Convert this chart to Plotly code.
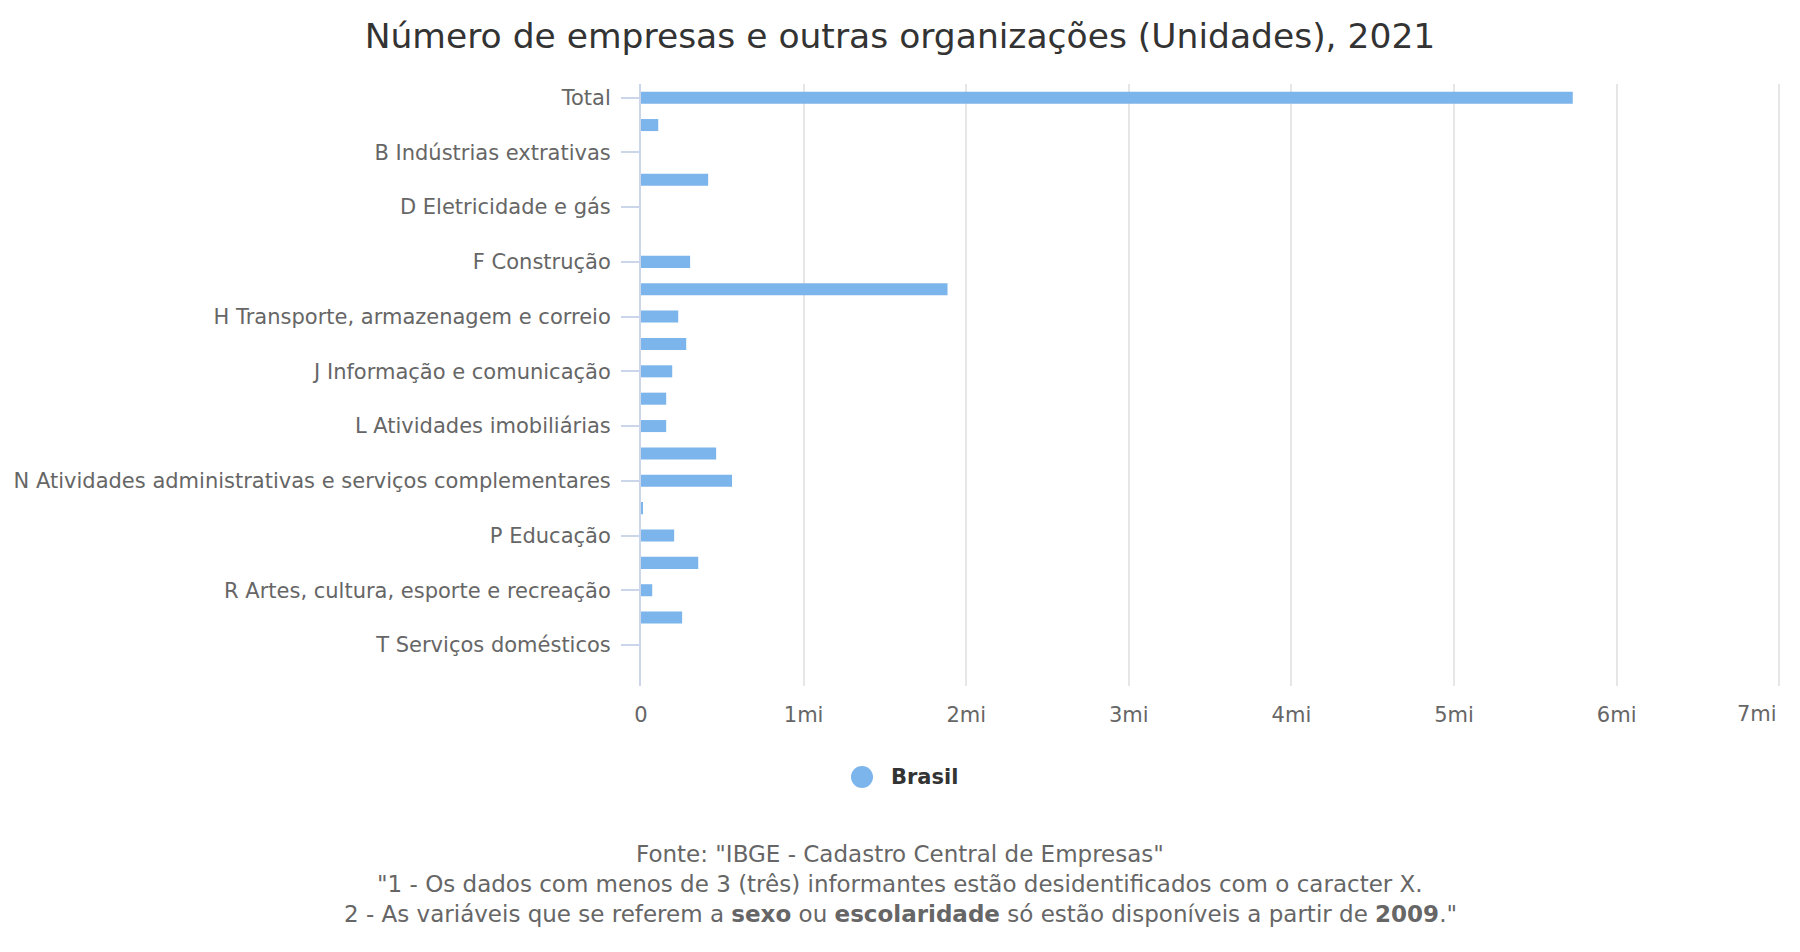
import plotly.graph_objects as go

categories = [
    "Total",
    "A Agricultura, pecuária, produção florestal, pesca e aqüicultura",
    "B Indústrias extrativas",
    "C Indústrias de transformação",
    "D Eletricidade e gás",
    "E Água, esgoto, atividades de gestão de resíduos e descontaminação",
    "F Construção",
    "G Comércio; reparação de veículos automotores e motocicletas",
    "H Transporte, armazenagem e correio",
    "I Alojamento e alimentação",
    "J Informação e comunicação",
    "K Atividades financeiras, de seguros e serviços relacionados",
    "L Atividades imobiliárias",
    "M Atividades profissionais, científicas e técnicas",
    "N Atividades administrativas e serviços complementares",
    "O Administração pública, defesa e seguridade social",
    "P Educação",
    "Q Saúde humana e serviços sociais",
    "R Artes, cultura, esporte e recreação",
    "S Outras atividades de serviços",
    "T Serviços domésticos",
    "U Organismos internacionais e outras instituições extraterritoriais",
]
values = [
    5730000, 106000, 0, 413000, 0, 0, 302000, 1885000, 229000, 278000,
    192000, 155000, 155000, 462000, 560000, 12000, 204000, 352000, 69000,
    253000, 0, 0,
]
series_name = "Brasil"
tick_values = [0, 1e6, 2e6, 3e6, 4e6, 5e6, 6e6, 7e6]
tick_labels = ["0", "1mi", "2mi", "3mi", "4mi", "5mi", "6mi", "7mi"]
labeled_categories = categories[0:21:2]

FONT = "DejaVu Sans"
BAR = "#7cb5ec"
W, H = 1800, 952
L, R, T, B = 641, 19, 84, 266
PW, PH = W - L - R, H - T - B


def px_x(x):
    return (x - L) / PW


def px_y(y):
    return (H - B - y) / PH


fig = go.Figure()
fig.add_trace(go.Bar(
    x=values, y=categories, orientation="h", name=series_name,
    marker=dict(color=BAR, line=dict(width=0)), showlegend=False,
))

# last tick label is drawn pulled inside the chart (as Highcharts does)
axis_ticktext = tick_labels[:-1] + [""]

fig.update_layout(
    width=W, height=H,
    margin=dict(l=L, r=R, t=T, b=B),
    paper_bgcolor="white", plot_bgcolor="white",
    font=dict(family=FONT, color="#666666", size=21),
    title=dict(
        text="Número de empresas e outras organizações (Unidades), 2021",
        x=0.5, xanchor="center", y=1 - 36 / H, yanchor="middle",
        font=dict(family=FONT, size=34.5, color="#333333"),
    ),
    bargap=0.56,
    showlegend=False,
    xaxis=dict(
        range=[0, tick_values[-1] * 1.0015], tickvals=tick_values, ticktext=axis_ticktext,
        showgrid=True, gridcolor="#e6e6e6", gridwidth=2,
        zeroline=False, showline=False, ticks="",
        tickfont=dict(family=FONT, size=21, color="#666666"),
        ticklabelstandoff=14,
    ),
    yaxis=dict(
        type="category", categoryorder="array", categoryarray=categories,
        autorange="reversed",
        tickvals=labeled_categories, ticktext=labeled_categories,
        showgrid=False, zeroline=False,
        showline=True, linecolor="#ccd6eb", linewidth=2,
        ticks="outside", ticklen=18, tickcolor="#ccd6eb", tickwidth=2,
        tickfont=dict(family=FONT, size=21, color="#666666"),
        ticklabelstandoff=6,
    ),
)

fig.add_annotation(
    text=tick_labels[-1], xref="x", yref="paper", x=tick_values[-1], xanchor="right",
    xshift=0, y=px_y(714), yanchor="middle", showarrow=False,
    font=dict(family=FONT, size=21, color="#666666"),
)

# legend (Highcharts-style circle symbol)
fig.add_shape(
    type="circle", xref="paper", yref="paper",
    x0=px_x(851), x1=px_x(873), y0=px_y(788), y1=px_y(766),
    fillcolor=BAR, line=dict(width=0),
)
fig.add_annotation(
    text="<b>%s</b>" % series_name, xref="paper", yref="paper",
    x=px_x(889), xanchor="left", y=px_y(777), yanchor="middle",
    showarrow=False, font=dict(family=FONT, size=21, color="#333333"),
)

foot_lines = [
    'Fonte: "IBGE - Cadastro Central de Empresas"',
    '"1 - Os dados com menos de 3 (três) informantes estão desidentificados com o caracter X.',
    '2 - As variáveis que se referem a <b>sexo</b> ou <b>escolaridade</b> só estão disponíveis a partir de <b>2009</b>."',
]
foot_y = [854, 884, 914]
for txt, yy in zip(foot_lines, foot_y):
    fig.add_annotation(
        text=txt, xref="paper", yref="paper", x=px_x(900), xanchor="center",
        y=px_y(yy), yanchor="middle",
        showarrow=False, font=dict(family=FONT, size=23, color="#666666"),
    )

fig.write_html("out.html")
